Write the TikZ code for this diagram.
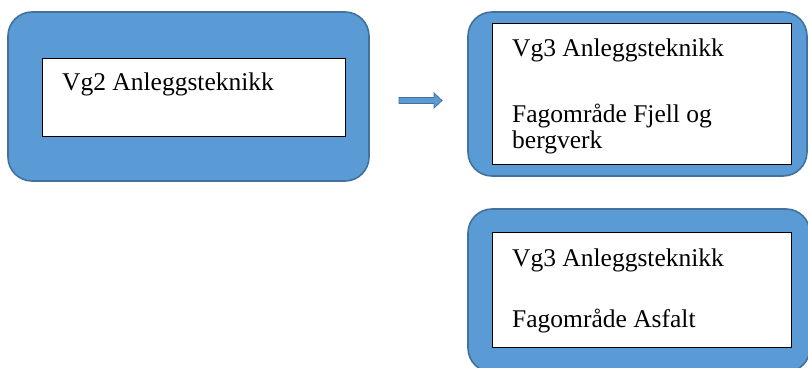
\documentclass[tikz,border=0pt]{standalone}
\usepackage{fontspec}
\setmainfont{Liberation Serif}
\definecolor{boxblue}{HTML}{5B9BD5}
\definecolor{edgeblue}{HTML}{41719C}
\begin{document}
\begin{tikzpicture}[x=1pt,y=-1pt,
  outer/.style={draw=edgeblue,fill=boxblue,line width=1.6pt,rounded corners=24pt},
  inner/.style={draw=black,fill=white,line width=1pt},
  txt/.style={anchor=base west,inner sep=0pt,font=\fontsize{25.5}{30}\selectfont,text=black},
  fatarrow/.style={draw=edgeblue,fill=boxblue,line width=0.8pt,line join=miter}]
\clip (0,0) rectangle (808,367);
% box 1
\draw[outer] (8,12) rectangle (369,181);
\node[inner,minimum width=303pt,minimum height=78pt,anchor=north west] (w1) at (42,58) {};
\node[txt] (t1) at (62,90) {Vg2 Anleggsteknikk};
% box 2
\draw[outer] (468,12) rectangle (807,176);
\node[inner,minimum width=299pt,minimum height=141pt,anchor=north west] (w2) at (492,23) {};
\node[txt] (t2a) at (512,56) {Vg3 Anleggsteknikk};
\node[txt] (t2b) at (512,122) {Fagområde Fjell og};
\begin{scope}
\clip (492,23) rectangle (791,153);
\node[txt] (t2c) at (512,148) {bergverk};
\end{scope}
% box 3
\draw[outer] (468,209) rectangle (810,372);
\node[inner,minimum width=299pt,minimum height=115pt,anchor=north west] (w3) at (492,232) {};
\node[txt] (t3a) at (512,266) {Vg3 Anleggsteknikk};
\node[txt] (t3b) at (512,327) {Fagområde Asfalt};
% arrow
\coordinate (as) at (399,100.5);
\coordinate (at) at (442,100.5);
\draw[fatarrow] (as) ++(0,-3) -- ++(35,0) -- ++(0,-4.5) -- (at)
  -- ++(-8,7.5) -- ++(0,-4.5) -- ++(-35,0) -- cycle;
\end{tikzpicture}
\end{document}
